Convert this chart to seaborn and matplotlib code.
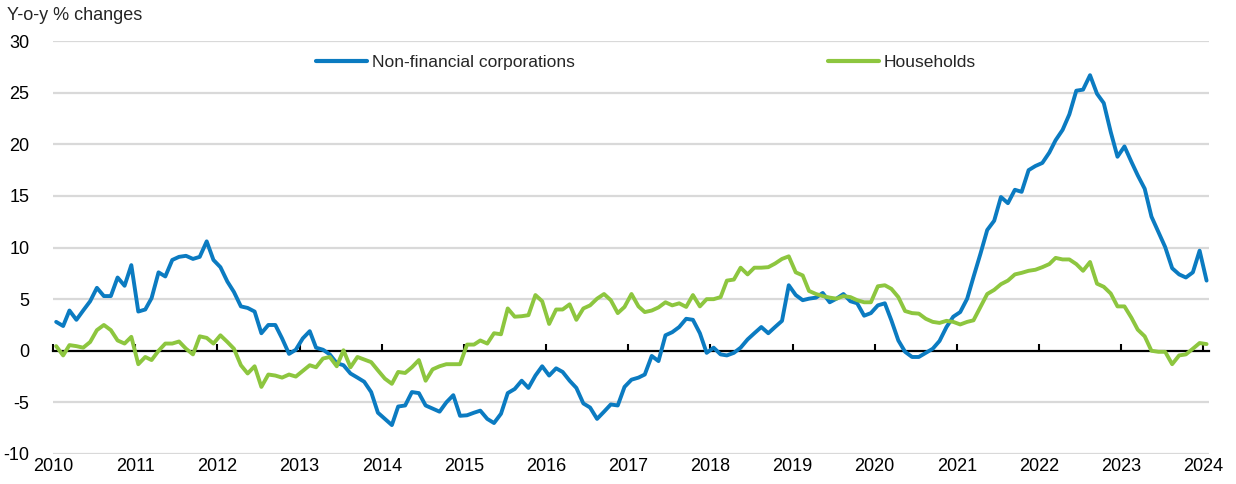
import pandas as pd
import matplotlib
matplotlib.use("Agg")
import matplotlib.pyplot as plt
import seaborn as sns

# Y-o-y % changes, monthly, Jan 2010 - Jan 2024
nfc_2010 = [2.8, 2.4, 3.9, 3.0, 3.9, 4.8, 6.1, 5.3, 5.3, 7.1, 6.3, 8.3]
nfc_2011 = [3.8, 4.0, 5.1, 7.6, 7.2, 8.8, 9.1, 9.2, 8.9, 9.1, 10.6, 8.8]
nfc_2012 = [8.1, 6.7, 5.7, 4.3, 4.15, 3.8, 1.7, 2.5, 2.5, 1.2, -0.3, 0.1]
nfc_2013 = [1.2, 1.9, 0.3, 0.1, -0.35, -1.2, -1.4, -2.2, -2.6, -3.0, -4.0, -6.0]
nfc_2014 = [-6.6, -7.2, -5.4, -5.3, -4.0, -4.1, -5.3, -5.6, -5.9, -5.0, -4.3, -6.3]
nfc_2015 = [-6.25, -6.0, -5.8, -6.6, -7.0, -6.1, -4.1, -3.7, -2.9, -3.6, -2.4, -1.5]
nfc_2016 = [-2.4, -1.7, -2.05, -2.9, -3.6, -5.1, -5.5, -6.6, -5.9, -5.2, -5.3, -3.5]
nfc_2017 = [-2.8, -2.6, -2.3, -0.5, -1.0, 1.5, 1.8, 2.3, 3.1, 3.0, 1.7, -0.2]
nfc_2018 = [0.3, -0.35, -0.45, -0.2, 0.3, 1.1, 1.7, 2.3, 1.7, 2.3, 2.9, 6.35]
nfc_2019 = [5.4, 4.9, 5.05, 5.15, 5.6, 4.7, 5.05, 5.5, 4.8, 4.6, 3.4, 3.65]
nfc_2020 = [4.4, 4.6, 2.95, 1.0, -0.1, -0.6, -0.6, -0.2, 0.2, 0.95, 2.3, 3.3]
nfc_2021 = [3.75, 5.05, 7.15, 9.4, 11.7, 12.6, 14.9, 14.3, 15.6, 15.4, 17.5, 17.9]
nfc_2022 = [18.2, 19.2, 20.4, 21.4, 22.9, 25.2, 25.3, 26.7, 24.9, 24.0, 21.2, 18.8]
nfc_2023 = [19.8, 18.3, 17.0, 15.7, 13.0, 11.5, 10.05, 8.0, 7.4, 7.1, 7.6, 9.7]
nfc_2024 = [6.8]

hh_2010 = [0.45, -0.45, 0.55, 0.45, 0.3, 0.85, 2.0, 2.5, 2.0, 1.0, 0.7, 1.35]
hh_2011 = [-1.3, -0.6, -0.9, 0.0, 0.7, 0.7, 0.9, 0.2, -0.35, 1.4, 1.25, 0.7]
hh_2012 = [1.5, 0.85, 0.2, -1.4, -2.2, -1.5, -3.5, -2.3, -2.4, -2.6, -2.3, -2.5]
hh_2013 = [-1.95, -1.4, -1.6, -0.75, -0.6, -1.5, 0.05, -1.6, -0.6, -0.85, -1.1, -1.9]
hh_2014 = [-2.7, -3.2, -2.05, -2.15, -1.6, -0.9, -2.9, -1.8, -1.5, -1.3, -1.3, -1.3]
hh_2015 = [0.6, 0.6, 1.0, 0.7, 1.7, 1.6, 4.1, 3.3, 3.35, 3.45, 5.4, 4.8]
hh_2016 = [2.6, 4.0, 4.0, 4.5, 3.0, 4.1, 4.4, 5.05, 5.5, 4.9, 3.65, 4.25]
hh_2017 = [5.5, 4.3, 3.75, 3.9, 4.2, 4.7, 4.4, 4.6, 4.25, 5.4, 4.3, 5.0]
hh_2018 = [5.0, 5.2, 6.8, 6.9, 8.05, 7.4, 8.05, 8.05, 8.1, 8.45, 8.9, 9.15]
hh_2019 = [7.6, 7.3, 5.8, 5.5, 5.3, 5.15, 5.05, 5.3, 5.2, 4.9, 4.7, 4.7]
hh_2020 = [6.25, 6.35, 6.0, 5.2, 3.85, 3.65, 3.6, 3.1, 2.8, 2.7, 2.9, 2.8]
hh_2021 = [2.55, 2.8, 2.95, 4.25, 5.5, 5.9, 6.45, 6.8, 7.4, 7.55, 7.75, 7.85]
hh_2022 = [8.1, 8.4, 9.0, 8.85, 8.85, 8.4, 7.75, 8.6, 6.5, 6.2, 5.55, 4.3]
hh_2023 = [4.3, 3.2, 2.05, 1.4, 0.0, -0.1, -0.1, -1.3, -0.45, -0.35, 0.2, 0.75]
hh_2024 = [0.65]

nfc = (nfc_2010 + nfc_2011 + nfc_2012 + nfc_2013 + nfc_2014 + nfc_2015 + nfc_2016
       + nfc_2017 + nfc_2018 + nfc_2019 + nfc_2020 + nfc_2021 + nfc_2022 + nfc_2023 + nfc_2024)
hh = (hh_2010 + hh_2011 + hh_2012 + hh_2013 + hh_2014 + hh_2015 + hh_2016
      + hh_2017 + hh_2018 + hh_2019 + hh_2020 + hh_2021 + hh_2022 + hh_2023 + hh_2024)

series_names = ["Non-financial corporations", "Households"]
colors = ["#0B7BC1", "#8DC63F"]
years = list(range(2010, 2025))
y_ticks = [-10, -5, 0, 5, 10, 15, 20, 25, 30]

# monthly points, drawn mid-month
dates = pd.date_range("2010-01-01", "2024-01-01", freq="MS") + pd.Timedelta(days=14)
df = pd.DataFrame({"date": list(dates) * 2,
                   "value": nfc + hh,
                   "series": [series_names[0]] * len(nfc) + [series_names[1]] * len(hh)})

sns.set_style("white")
plt.rcParams["font.family"] = ["Liberation Sans", "DejaVu Sans"]

fig = plt.figure(figsize=(12.36, 4.84), dpi=100)
ax = fig.add_axes([0.0429, 0.062, 0.9353, 0.853])

for y in y_ticks:
    if y != 0:
        ax.axhline(y, color="#d9d9d9", lw=1.6, zorder=0)

sns.lineplot(data=df, x="date", y="value", hue="series", palette=colors,
             linewidth=2.8, ax=ax, legend=True)

ax.set_ylim(-10, 30)
ax.set_xlim(pd.Timestamp("2010-01-01"), pd.Timestamp("2024-01-26"))
ax.set_yticks(y_ticks)
ax.set_yticklabels([str(v) for v in y_ticks])
tick_dates = [pd.Timestamp(f"{y}-01-01") for y in years]
ax.set_xticks(tick_dates)
ax.set_xticklabels([str(y) for y in years])
ax.tick_params(axis="both", length=0, labelsize=13, colors="black")
ax.tick_params(axis="y", pad=17)
ax.tick_params(axis="x", pad=3)
ax.set_xlabel("")
ax.set_ylabel("")
for s in ax.spines.values():
    s.set_visible(False)

# zero line with year ticks pointing up
zero = ax.secondary_xaxis(0.25)
zero.set_xticks(tick_dates)
zero.tick_params(axis="x", direction="in", length=5, width=1.5, labelbottom=False, color="black")
zero.spines["bottom"].set_linewidth(1.6)
zero.spines["bottom"].set_color("black")
for side in ["top", "left", "right"]:
    zero.spines[side].set_visible(False)

leg = ax.legend(loc="center", bbox_to_anchor=(0.513, 0.949), ncol=2, frameon=False,
                fontsize=12.5, handlelength=2.9, columnspacing=14.6, handletextpad=0.3)
for line in leg.get_lines():
    line.set_linewidth(3)

fig.text(0.006, 0.985, "Y-o-y % changes", fontsize=13, va="top", ha="left")

fig.savefig("out.png", dpi=100)
